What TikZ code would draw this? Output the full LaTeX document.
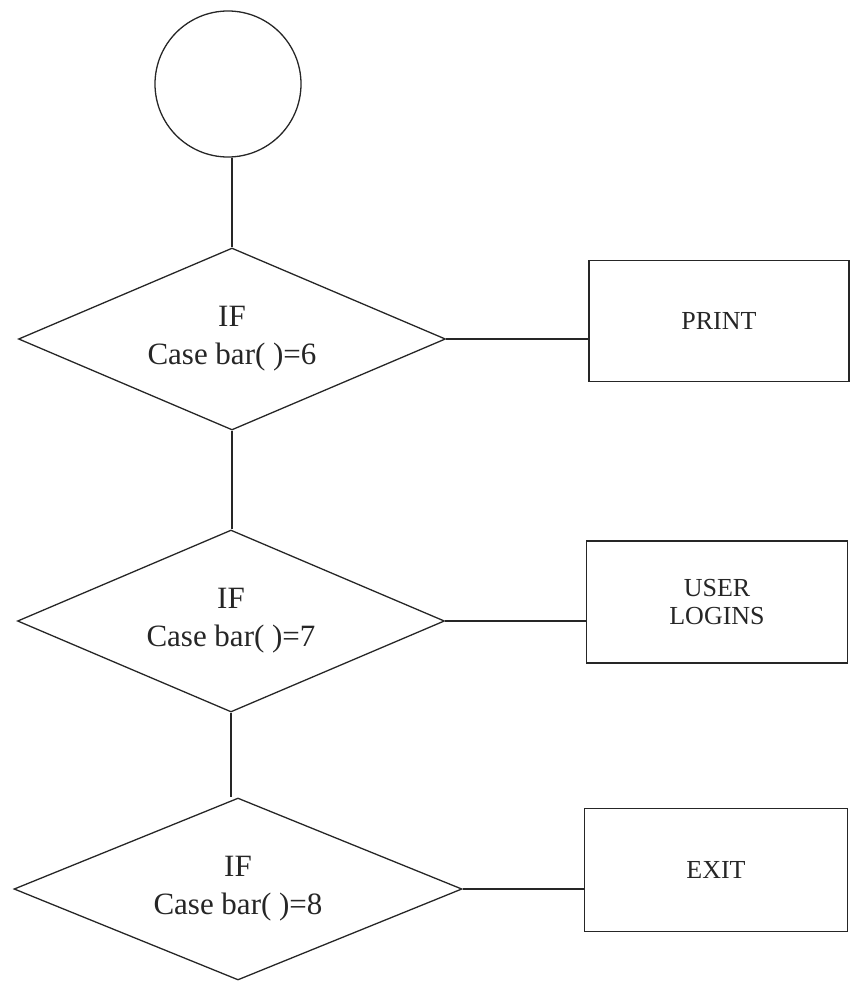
\documentclass[tikz,border=0pt]{standalone}
\usepackage{fontspec}
\setmainfont{Liberation Serif}
\usetikzlibrary{shapes.geometric}
\tikzset{
    base line/.style={line width=1.3pt, black!85},
    start circle/.style={base line, draw, circle, minimum size=146pt, inner sep=0pt},
    decision/.style={base line, draw, diamond, shape aspect=2.35,
        minimum width=427pt, minimum height=182pt, inner sep=0pt,
        align=center, font=\fontsize{31}{38}\selectfont},
    action box/.style={base line, draw, rectangle, minimum width=261pt,
        minimum height=122pt, align=center, font=\fontsize{26}{28}\selectfont}
}
\begin{document}
\begin{tikzpicture}[x=1pt, y=-1pt]

\useasboundingbox (0,0) rectangle (851,982);

% Inicio
\node[start circle] (c) at (228, 84) {};

% Decisiones
\node[decision] (d1) at (232, 339) {IF\\Case bar( )=6};
\node[decision] (d2) at (231, 621) {IF\\Case bar( )=7};
\node[decision, minimum width=448pt] (d3) at (238, 889) {IF\\Case bar( )=8};

% Acciones
\node[action box, minimum width=260pt, minimum height=121pt] (p1) at (719, 321) {PRINT};
\node[action box] (p2) at (717, 602) {USER\\LOGINS};
\node[action box, minimum width=263pt, minimum height=123pt] (p3) at (716, 870) {EXIT};

% Conectores verticales, luego los horizontales hacia las cajas
\draw[base line] (c.south -| d1.north) -- (d1.north);
\draw[base line] (d1.south) -- (d1.south |- d2.north);
\draw[base line] (d2.south) -- (d2.south |- d3.north);

\draw[base line] (d1.east) -- (d1.east -| p1.west);
\draw[base line] (d2.east) -- (d2.east -| p2.west);
\draw[base line] (d3.east) -- (d3.east -| p3.west);

\end{tikzpicture}
\end{document}
